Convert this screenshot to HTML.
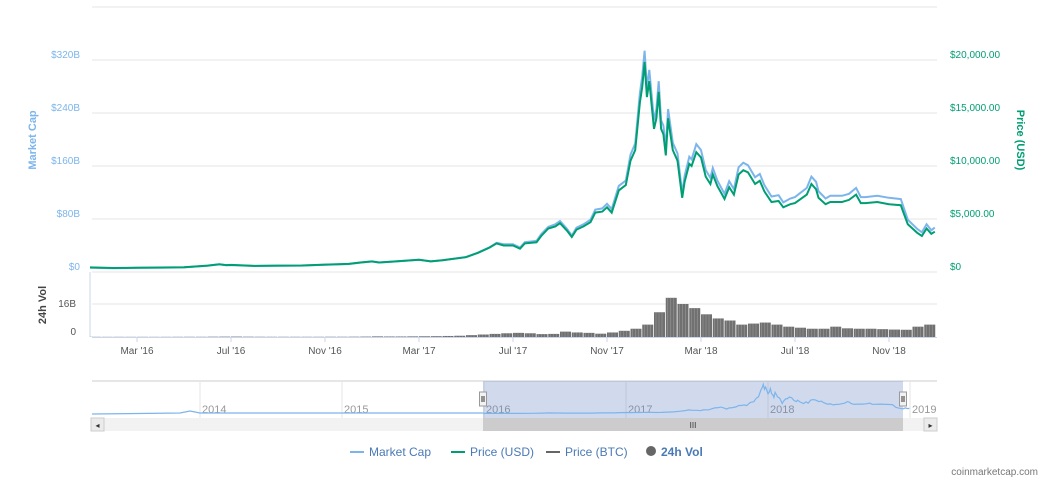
<!DOCTYPE html>
<html><head><meta charset="utf-8"><style>
body{margin:0;background:#fff;width:1050px;height:487px;overflow:hidden;font-family:"Liberation Sans",sans-serif}
svg text{font-family:"Liberation Sans",sans-serif}
</style></head><body>
<svg id="c" width="1050" height="487"></svg>
<script>
const priceT=[0,1,2,3,4,5,5.5,5.8,6,7,8,9,10,11,11.5,12,12.3,13,14,14.5,15,16,16.5,17,17.3,17.6,18,18.3,18.5,19,19.2,19.5,19.8,20,20.3,20.5,20.7,21,21.3,21.5,21.8,22,22.2,22.5,22.8,23,23.2,23.4,23.5,23.6,23.7,23.8,24,24.1,24.2,24.3,24.4,24.5,24.6,24.7,24.8,25,25.2,25.3,25.5,25.6,25.8,26,26.2,26.4,26.5,26.7,27,27.2,27.4,27.6,27.8,28,28.3,28.5,28.7,29,29.3,29.5,29.8,30,30.5,30.7,30.9,31,31.3,31.5,32,32.3,32.6,32.8,33,33.5,34,34.5,34.6,34.8,35,35.2,35.4,35.6,35.8,35.95];
const priceUSD=[430,380,410,420,450,600,740,650,670,580,600,610,700,760,900,1000,900,1000,1150,1000,1100,1400,1800,2300,2700,2500,2500,2200,2700,2800,3400,4100,4300,4600,3900,3300,4000,4300,4700,5600,5700,6100,5600,7700,8200,10500,11500,16000,17500,19800,16500,18000,13500,14500,17000,13500,13000,11000,14500,13000,11500,10500,7000,8500,10200,10000,11300,10800,9000,8300,9200,8100,6900,8000,7300,9200,9600,9400,8300,8600,7600,6600,6700,6100,6400,6500,7300,8300,7800,7000,6400,6600,6600,6800,7300,6500,6500,6600,6400,6300,5700,4500,4100,3700,3400,4100,3600,3800];
const marketCapB=[6.5,5.8,6.3,6.4,6.9,9.3,11.5,10.1,10.4,9.0,9.4,9.6,11.0,12.0,14.2,15.8,14.3,15.9,18.4,16.0,17.7,22.6,29.1,37.3,44.0,42,42,37,45,47,57,68,72,77,65,55,67,72,79,94,96,103,95,130,138,177,194,270,296,334,279,305,229,246,288,229,221,187,246,221,195,179,119,145,174,170,193,184,154,142,157,138,118,137,125,158,165,161,143,148,131,114,116,105,111,113,127,144,136,122,111,115,115,118,127,113,113,115,112,110,100,79,72,65,60,72,63,67];
const volMonths=[0,0.5,1,1.5,2,2.5,3,3.5,4,4.5,5,5.5,6,6.5,7,7.5,8,8.5,9,9.5,10,10.5,11,11.5,12,12.5,13,13.5,14,14.5,15,15.5,16,16.5,17,17.5,18,18.5,19,19.5,20,20.5,21,21.5,22,22.5,23,23.5,24,24.5,25,25.5,26,26.5,27,27.5,28,28.5,29,29.5,30,30.5,31,31.5,32,32.5,33,33.5,34,34.5,35,35.5];
const volB=[0.08,0.07,0.08,0.07,0.08,0.07,0.08,0.09,0.1,0.1,0.15,0.18,0.2,0.15,0.12,0.1,0.1,0.1,0.1,0.1,0.12,0.12,0.15,0.2,0.3,0.25,0.25,0.3,0.35,0.4,0.5,0.6,0.9,1.2,1.5,1.8,2,1.8,1.4,1.5,2.6,2.2,2,1.6,2.2,3,4,6,12,19,16,14,11,9,8,6,6.5,7,6,5,4.5,4,4,5,4.2,4,4,3.8,3.6,3.5,5,6,6,5];
const xTickLabels=["Mar '16","Jul '16","Nov '16","Mar '17","Jul '17","Nov '17","Mar '18","Jul '18","Nov '18"];
const xTickMonths=[2,6,10,14,18,22,26,30,34];
const leftTicks=["$0","$80B","$160B","$240B","$320B"];
const leftTickVals=[0,80,160,240,320];
const rightTicks=["$0","$5,000.00","$10,000.00","$15,000.00","$20,000.00"];
const rightTickVals=[0,5000,10000,15000,20000];
const navYears=["2014","2015","2016","2017","2018","2019"];
const navYearVals=[2014,2015,2016,2017,2018,2019];

const S=document.getElementById('c');const NS='http://www.w3.org/2000/svg';
function el(t,a,p){const e=document.createElementNS(NS,t);for(const k in a)e.setAttribute(k,a[k]);(p||S).appendChild(e);return e;}
const X0=92,X1=937;
const x=m=>90+m*23.5;
const yP=v=>272-v*(212/20000);
const yM=v=>272-v*(212/320);
const yV=v=>337-v*(33/16);
function txt(s,a,name){const e=el('text',a);e.textContent=s;return e;}
[7].concat(leftTickVals.map(yM)).forEach((y,i)=>{const g=el('line',{x1:X0,x2:X1,y1:y,y2:y,stroke:'#e6e6e6','stroke-width':1});});
leftTickVals.forEach((v,i)=>{txt(leftTicks[i],{x:80,y:yM(v)-2,'text-anchor':'end','font-size':10,fill:'#7cb5ec'},'left-tick-label');});
rightTickVals.forEach((v,i)=>{txt(rightTicks[i],{x:950,y:yP(v)-2,'font-size':10,fill:'#009e73'},'right-tick-label');});
txt('Market Cap',{transform:'translate(36,140) rotate(-90)','text-anchor':'middle','font-size':11,'font-weight':'bold',fill:'#7cb5ec'},'left-axis-title');
txt('Price (USD)',{transform:'translate(1017,140) rotate(90)','text-anchor':'middle','font-size':11,'font-weight':'bold',fill:'#009e73'},'right-axis-title');
el('line',{x1:X0,x2:X1,y1:304,y2:304,stroke:'#e6e6e6'});
el('line',{x1:X0,x2:X1,y1:337.5,y2:337.5,stroke:'#ccd6eb'});
el('line',{x1:X0-2,x2:X0-2,y1:272,y2:337,stroke:'#ccd6eb'});
txt('16B',{x:76,y:307,'text-anchor':'end','font-size':10,fill:'#555'},'vol-tick-label');
txt('0',{x:76,y:335,'text-anchor':'end','font-size':10,fill:'#555'},'vol-tick-label');
txt('24h Vol',{transform:'translate(46,305) rotate(-90)','text-anchor':'middle','font-size':11,'font-weight':'bold',fill:'#444'},'vol-axis-title');
volB.forEach((v,i)=>{const xs=x(volMonths[i]);const w=Math.min(11,X1-xs);if(w<=0)return;const b=el('rect',{x:xs,y:yV(v),width:w,height:337-yV(v),fill:'#707070'});


for(let k=2;k<w;k+=3){el('line',{x1:xs+k,x2:xs+k,y1:yV(v),y2:337,stroke:'#9a9a9a','stroke-width':0.6});}});
xTickMonths.forEach((m,i)=>{el('line',{x1:x(m),x2:x(m),y1:337,y2:342,stroke:'#ccd6eb'});txt(xTickLabels[i],{x:x(m),y:354,'text-anchor':'middle','font-size':10,fill:'#555'},'x-tick-label');});
function path(T,V,fx,fy){return T.map((t,i)=>(i?'L':'M')+Math.min(fx(t),X1).toFixed(1)+','+fy(V[i]).toFixed(1)).join('');}
const mc=el('path',{d:path(priceT,marketCapB,x,yM),fill:'none',stroke:'#7cb5ec','stroke-width':2});

const pl=el('path',{d:path(priceT,priceUSD,x,yP),fill:'none',stroke:'#009e73','stroke-width':2});

const nx=yr=>58+(yr-2013)*142;
el('line',{x1:X0,x2:X1,y1:381,y2:381,stroke:'#ccc'});
navYearVals.forEach((yr,i)=>{el('line',{x1:nx(yr),x2:nx(yr),y1:381,y2:418,stroke:'#e6e6e6'});txt(navYears[i],{x:nx(yr)+2,y:413,'font-size':11,fill:'#999'},'navigator-year-label');});
const nsel=el('rect',{x:483,y:381,width:420,height:37,fill:'rgba(102,133,194,0.3)'});

const nyv=v=>414-v*(30/20000);
const navT=[2013.24].concat(priceT.map(t=>2016+t/12));
const navV=[120].concat(priceUSD);
const nl=el('path',{d:'M92,414L180,413L190,411L200,413L483,413'+navT.slice(1).map((t,i)=>'L'+Math.min(nx(t),X1).toFixed(1)+','+nyv(navV[i+1]).toFixed(1)).join(''),fill:'none',stroke:'#7cb5ec','stroke-width':1.2});

[483,903].forEach(h=>{const r=el('rect',{x:h-3.5,y:392,width:7,height:14,fill:'#f2f2f2',stroke:'#999'});el('line',{x1:h-1,x2:h-1,y1:396,y2:402,stroke:'#333'});el('line',{x1:h+1,x2:h+1,y1:396,y2:402,stroke:'#333'});});
el('rect',{x:X0,y:418,width:X1-X0,height:13,fill:'#f2f2f2'});
const th=el('rect',{x:483,y:418,width:420,height:13,fill:'#ccc'});
txt('III',{x:693,y:428,'text-anchor':'middle','font-size':8,fill:'#333'},'scrollbar-grip');
[[X0-1,'◂'],[X1-13,'▸']].forEach(([bx,g])=>{const b=el('rect',{x:bx,y:418,width:13,height:13,fill:'#ebebeb',stroke:'#ccc'});el('text',{x:bx+6.5,y:428,'text-anchor':'middle','font-size':8,fill:'#333'}).textContent=g;});
const leg=[['Market Cap','#7cb5ec','#4572a7',350],['Price (USD)','#009e73','#4572a7',451],['Price (BTC)','#666','#333',546]];
leg.forEach(([n,c,tc,lx])=>{el('line',{x1:lx,x2:lx+14,y1:452,y2:452,stroke:c,'stroke-width':2});txt(n,{x:lx+19,y:456,'font-size':12,fill:'#4a7ab5'},'legend-entry');});
el('circle',{cx:651,cy:451,r:5,fill:'#666'});
txt('24h Vol',{x:661,y:456,'font-size':12,'font-weight':'bold',fill:'#4a7ab5'},'legend-entry');
txt('coinmarketcap.com',{x:1038,y:475,'text-anchor':'end','font-size':10,fill:'#777'},'credits');
</script>
</body></html>
